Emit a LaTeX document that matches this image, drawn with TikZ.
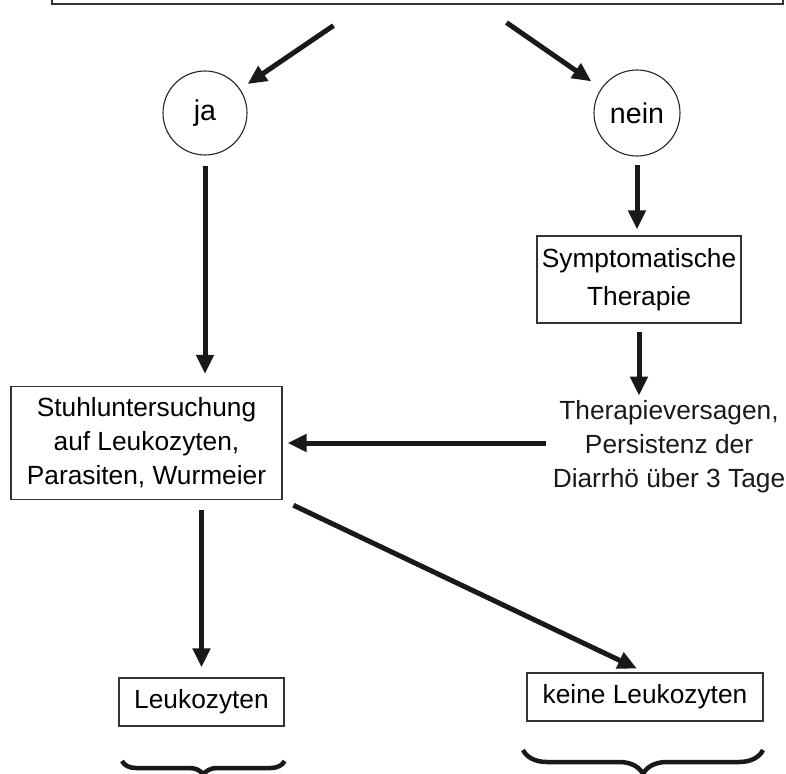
\documentclass[tikz,border=0pt]{standalone}
\usepackage{fontspec}
\setmainfont{Liberation Sans}
\usepackage{tikz}
\usetikzlibrary{calc,positioning,arrows.meta,shapes.geometric,%
    decorations.pathreplacing}
\tikzset{
    >={Triangle[length=19pt,width=17pt]},
    kasse/.style={
        rectangle,
        draw=black!80, line width=1.2pt,
        align=center,
        inner sep=0pt
    },
    rund/.style={
        circle,
        draw=black!85, line width=1.1pt,
        inner sep=0pt,
        font={\fontsize{28.6pt}{34pt}\selectfont}
    },
    pil/.style={draw, black!90, line width=5pt, ->},
    decoration={brace},
    tuborg/.style={decorate, black!90, line width=4.5pt},
    font={\fontsize{26.3pt}{34pt}\selectfont},
}
\begin{document}
\begin{tikzpicture}[x=1pt,y=-1pt]
\useasboundingbox (0,0) rectangle (786,773);
\clip (0,0) rectangle (786,773);
\node[kasse, minimum width=731pt, minimum height=120pt] (start) at (417.5,-56) {};
\node[rund, minimum size=84pt] (ja) at (205,113) {ja};
\node[rund, minimum size=86pt] (nein) at (637,113) {nein};
\node[kasse, minimum width=204pt, minimum height=87pt] (sympt) at (639,279.5) {Symptomatische\\[4pt]Therapie};
\node[kasse, minimum width=271pt, minimum height=113pt] (stuhl) at (146.5,443) {Stuhluntersuchung\\auf Leukozyten,\\Parasiten, Wurmeier};
\node[align=center, inner sep=2pt, text=black!90] (fail) at (669,447) {Therapieversagen,\\Persistenz der\\Diarrh\"o \"uber 3 Tage};
\node[kasse, minimum width=165pt, minimum height=48pt] (leuko) at (201.5,702) {Leukozyten};
\node[kasse, minimum width=236pt, minimum height=48pt] (keine) at (645,697) {keine Leukozyten};
\draw[pil, shorten >=9pt] ([xshift=-84pt,yshift=-21pt]start.south) -- (ja);
\draw[pil, shorten >=12pt] ([xshift=89pt,yshift=-18pt]start.south) -- (nein);
\draw[pil, shorten <=10pt, shorten >=12pt] (ja) -- (ja |- stuhl.north);
\draw[pil, shorten <=8pt, shorten >=6pt] (nein) -- (nein |- sympt.north);
\draw[pil, shorten <=8pt, shorten >=3pt] (sympt) -- (sympt |- fail.north);
\draw[pil, shorten <=5pt, shorten >=5pt] (fail.west |- stuhl.east) -- (stuhl.east);
\draw[pil, shorten <=10pt, shorten >=10pt] (leuko |- stuhl.south) -- (leuko);
\draw[pil, shorten <=12pt, shorten >=9pt] (stuhl.south east) -- (keine.north);
\draw[tuborg, decoration={amplitude=14pt}] (leuko.south east |- 0,761) -- (122,761);
\draw[tuborg, decoration={amplitude=24pt}] (763,750) -- (523,750);
\end{tikzpicture}
\end{document}
